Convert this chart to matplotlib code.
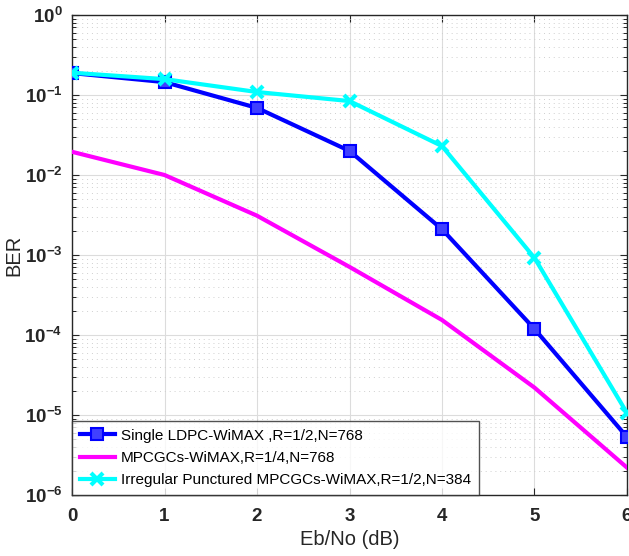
import matplotlib
matplotlib.use("Agg")
import matplotlib.pyplot as plt
from matplotlib.ticker import LogLocator, NullFormatter

plt.rcParams['font.family'] = ['Liberation Sans', 'DejaVu Sans']

ebno = [0, 1, 2, 3, 4, 5, 6]
ber_single = [0.188, 0.145, 0.069, 0.020, 0.0021, 1.19e-4, 5.3e-6]
ber_mpcgc = [0.0195, 0.0100, 0.0031, 7.1e-4, 1.54e-4, 2.2e-5, 2.2e-6]
ber_punct = [0.190, 0.158, 0.109, 0.084, 0.023, 9.2e-4, 1.06e-5]

labels = ['Single LDPC-WiMAX ,R=1/2,N=768',
          'MPCGCs-WiMAX,R=1/4,N=768',
          'Irregular Punctured MPCGCs-WiMAX,R=1/2,N=384']

fig = plt.figure(figsize=(6.29, 5.56), dpi=100)
ax = fig.add_axes([0.1145, 0.1097, 0.8823, 0.8633])

ax.semilogy(ebno, ber_single, color='#0000ff', lw=3, marker='s', ms=8,
            mfc='#4040ff', mec='#0000ff', mew=1.5, label=labels[0], zorder=4)
ax.semilogy(ebno, ber_mpcgc, color='#ff00ff', lw=3, label=labels[1], zorder=3)
ax.semilogy(ebno, ber_punct, color='#00ffff', lw=3, marker='x', ms=8,
            mew=3, label=labels[2], zorder=5)

ax.set_xlim(0, 6)
ax.set_ylim(1e-6, 1)
ax.set_xticks(ebno)
ax.yaxis.set_major_locator(LogLocator(base=10, numticks=10))
ax.yaxis.set_minor_locator(LogLocator(base=10, subs=range(2, 10), numticks=20))
ax.yaxis.set_minor_formatter(NullFormatter())

ax.grid(True, which='major', color='#dcdcdc', lw=0.8, ls='-')
ax.grid(True, which='minor', axis='y', color='#cfcfcf', lw=0.7, ls=(0, (1, 4)))
ax.set_axisbelow(True)

ax.tick_params(axis='both', which='major', direction='in', labelsize=13.5,
               length=5, colors='#262626')
ax.tick_params(axis='x', which='major', pad=9)
ax.tick_params(axis='y', which='major', pad=7)
ax.tick_params(axis='y', which='minor', direction='in', length=3)
ax.tick_params(top=True, right=True, which='both')
for lbl in ax.get_xticklabels() + ax.get_yticklabels():
    lbl.set_fontweight('bold')
for s in ax.spines.values():
    s.set_color('#262626')
    s.set_linewidth(1.0)

ax.set_xlabel('Eb/No (dB)', fontsize=14.5, color='#262626', labelpad=4)
ax.set_ylabel('BER', fontsize=14.5, color='#262626', labelpad=1)

leg = ax.legend(loc='lower left', fontsize=11, frameon=True, fancybox=False,
                borderaxespad=0.0, handlelength=2.3, handletextpad=0.4,
                borderpad=0.5, labelspacing=0.55)
leg.get_frame().set_edgecolor('#262626')
leg.get_frame().set_linewidth(1.0)

fig.savefig('out.png', dpi=100)
